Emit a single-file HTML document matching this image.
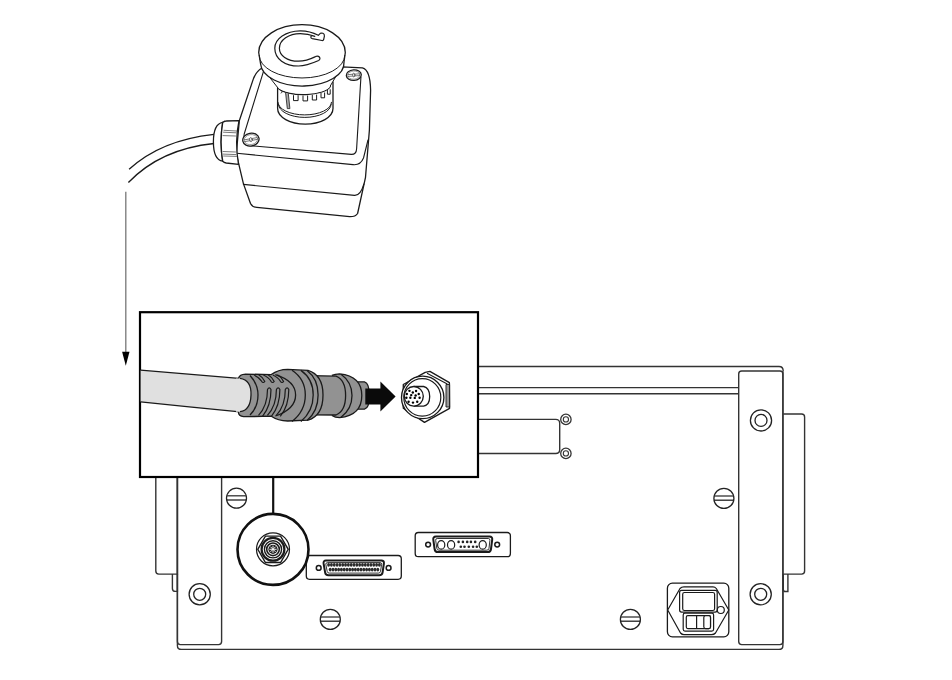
<!DOCTYPE html>
<html><head><meta charset="utf-8"><style>
html,body{margin:0;padding:0;background:#fff;width:952px;height:680px;overflow:hidden;font-family:"Liberation Sans",sans-serif}
svg{display:block}
</style></head><body>
<svg width="952" height="680" viewBox="0 0 952 680">


<!-- ============ DEVICE ============ -->
<g fill="none" stroke="#333" stroke-width="1.4">
  <!-- top line -->
  <path d="M470 366.5 H779 Q783.2 366.5 783.2 371"/>
  <line x1="470" y1="387.6" x2="738.6" y2="387.6"/>
  <line x1="470" y1="393.8" x2="738.6" y2="393.8"/>
  <!-- plate -->
  <path d="M470 419.4 H555.7 Q559.7 419.4 559.7 423.4 V449.5 Q559.7 453.5 555.7 453.5 H470"/>
  <!-- right flange -->
  <path d="M783.2 414 H801.6 Q804.6 414 804.6 417 V571 Q804.6 574.1 801.6 574.1 H783.2"/>
  <path d="M783.3 574.1 V589.4 Q783.3 591.5 785.3 591.5 H787.9 V574.1"/>
  <!-- left flange -->
  <path d="M177.4 470 V574.1 H158.8 Q155.8 574.1 155.8 571.1 V470"/>
  <path d="M177.4 574.1 V591.4 H175.4 Q172.4 591.4 172.4 588.4 V574.1"/>
  <!-- main panel outline left + bottom -->
  <path d="M177.4 470 V645.4 Q177.4 649.4 181.4 649.4 H778.9 Q782.9 649.4 782.9 645.4 V371"/>
  <!-- left bracket -->
  <path d="M177.4 470 V641.6 Q177.4 644.6 180.4 644.6 H218.6 Q221.6 644.6 221.6 641.6 V470"/>
  <!-- right bracket -->
  <rect x="738.7" y="371" width="44.2" height="273.6" rx="3"/>
</g>
<g transform="translate(565.9 419.4)"><circle r="5.2" fill="#fff" stroke="#333" stroke-width="1.3"/><circle r="2.6" fill="none" stroke="#333" stroke-width="1.1"/></g>
<g transform="translate(565.9 453.4)"><circle r="5.2" fill="#fff" stroke="#333" stroke-width="1.3"/><circle r="2.6" fill="none" stroke="#333" stroke-width="1.1"/></g>
<g transform="translate(761 420.4)"><circle r="10.6" fill="#fff" stroke="#222" stroke-width="1.3"/><circle r="6" fill="none" stroke="#222" stroke-width="1.3"/></g>
<g transform="translate(760.7 594.3)"><circle r="10.6" fill="#fff" stroke="#222" stroke-width="1.3"/><circle r="6" fill="none" stroke="#222" stroke-width="1.3"/></g>
<g transform="translate(199.7 594.3)"><circle r="10.6" fill="#fff" stroke="#222" stroke-width="1.3"/><circle r="6" fill="none" stroke="#222" stroke-width="1.3"/></g>
<g transform="translate(236.5 498.2)"><circle r="10" fill="#fff" stroke="#222" stroke-width="1.3"/><line x1="-9.6" y1="-2.4" x2="9.6" y2="-2.4" stroke="#333" stroke-width="1.3"/><line x1="-9.7" y1="1.8" x2="9.7" y2="1.8" stroke="#222" stroke-width="1.3"/></g>
<g transform="translate(330.3 619.4)"><circle r="10" fill="#fff" stroke="#222" stroke-width="1.3"/><line x1="-9.6" y1="-2.4" x2="9.6" y2="-2.4" stroke="#333" stroke-width="1.3"/><line x1="-9.7" y1="1.8" x2="9.7" y2="1.8" stroke="#222" stroke-width="1.3"/></g>
<g transform="translate(630.4 619.4)"><circle r="10" fill="#fff" stroke="#222" stroke-width="1.3"/><line x1="-9.6" y1="-2.4" x2="9.6" y2="-2.4" stroke="#333" stroke-width="1.3"/><line x1="-9.7" y1="1.8" x2="9.7" y2="1.8" stroke="#222" stroke-width="1.3"/></g>
<g transform="translate(723.9 498.4)"><circle r="10" fill="#fff" stroke="#222" stroke-width="1.3"/><line x1="-9.6" y1="-2.4" x2="9.6" y2="-2.4" stroke="#333" stroke-width="1.3"/><line x1="-9.7" y1="1.8" x2="9.7" y2="1.8" stroke="#222" stroke-width="1.3"/></g>

<!-- D-sub 37 -->
<g stroke="#1a1a1a" stroke-width="1.3" fill="#fff" stroke-linejoin="round">
  <rect x="306.3" y="555.5" width="95" height="23.8" rx="3.2"/>
  <path d="M326 560.5 H381.3 Q384.3 560.5 383.9 563.5 L382.6 572.3 Q382.2 575.2 379.2 575.2 H328.5 Q325.5 575.2 325.1 572.3 L323.6 563.5 Q323.2 560.5 326 560.5 Z" stroke-width="2"/>
  <path d="M327.5 562.6 H380 Q381.8 562.6 381.6 564.4 L380.5 571.4 Q380.2 573.1 378.5 573.1 H329.2 Q327.5 573.1 327.2 571.4 L325.8 564.4 Q325.6 562.6 327.5 562.6 Z" stroke-width="0.9"/>
  <g fill="#2a2a2a" stroke="none"><ellipse cx="328.60" cy="564.8" rx="1.45" ry="1.9"/><ellipse cx="331.42" cy="564.8" rx="1.45" ry="1.9"/><ellipse cx="334.24" cy="564.8" rx="1.45" ry="1.9"/><ellipse cx="337.07" cy="564.8" rx="1.45" ry="1.9"/><ellipse cx="339.89" cy="564.8" rx="1.45" ry="1.9"/><ellipse cx="342.71" cy="564.8" rx="1.45" ry="1.9"/><ellipse cx="345.53" cy="564.8" rx="1.45" ry="1.9"/><ellipse cx="348.36" cy="564.8" rx="1.45" ry="1.9"/><ellipse cx="351.18" cy="564.8" rx="1.45" ry="1.9"/><ellipse cx="354.00" cy="564.8" rx="1.45" ry="1.9"/><ellipse cx="356.82" cy="564.8" rx="1.45" ry="1.9"/><ellipse cx="359.64" cy="564.8" rx="1.45" ry="1.9"/><ellipse cx="362.47" cy="564.8" rx="1.45" ry="1.9"/><ellipse cx="365.29" cy="564.8" rx="1.45" ry="1.9"/><ellipse cx="368.11" cy="564.8" rx="1.45" ry="1.9"/><ellipse cx="370.93" cy="564.8" rx="1.45" ry="1.9"/><ellipse cx="373.76" cy="564.8" rx="1.45" ry="1.9"/><ellipse cx="376.58" cy="564.8" rx="1.45" ry="1.9"/><ellipse cx="379.40" cy="564.8" rx="1.45" ry="1.9"/><ellipse cx="330.20" cy="569.6" rx="1.45" ry="1.9"/><ellipse cx="333.00" cy="569.6" rx="1.45" ry="1.9"/><ellipse cx="335.80" cy="569.6" rx="1.45" ry="1.9"/><ellipse cx="338.60" cy="569.6" rx="1.45" ry="1.9"/><ellipse cx="341.40" cy="569.6" rx="1.45" ry="1.9"/><ellipse cx="344.20" cy="569.6" rx="1.45" ry="1.9"/><ellipse cx="347.00" cy="569.6" rx="1.45" ry="1.9"/><ellipse cx="349.80" cy="569.6" rx="1.45" ry="1.9"/><ellipse cx="352.60" cy="569.6" rx="1.45" ry="1.9"/><ellipse cx="355.40" cy="569.6" rx="1.45" ry="1.9"/><ellipse cx="358.20" cy="569.6" rx="1.45" ry="1.9"/><ellipse cx="361.00" cy="569.6" rx="1.45" ry="1.9"/><ellipse cx="363.80" cy="569.6" rx="1.45" ry="1.9"/><ellipse cx="366.60" cy="569.6" rx="1.45" ry="1.9"/><ellipse cx="369.40" cy="569.6" rx="1.45" ry="1.9"/><ellipse cx="372.20" cy="569.6" rx="1.45" ry="1.9"/><ellipse cx="375.00" cy="569.6" rx="1.45" ry="1.9"/><ellipse cx="377.80" cy="569.6" rx="1.45" ry="1.9"/></g>
  <circle cx="318.7" cy="567.9" r="2.4" stroke-width="1.5"/>
  <circle cx="388.6" cy="567.9" r="2.4" stroke-width="1.5"/>
  <!-- DB combo connector -->
  <rect x="415.2" y="532.5" width="95.2" height="24.2" rx="3.2"/>
  <path d="M436 536.6 H489.5 Q492.6 536.6 492.2 539.6 L491 549 Q490.6 552.1 487.6 552.1 H438 Q435 552.1 434.6 549 L433.3 539.6 Q432.9 536.6 436 536.6 Z" stroke-width="2"/>
  <path d="M437.2 538.5 H488.3 Q490.2 538.5 489.9 540.4 L489 548.3 Q488.7 550.2 486.8 550.2 H439 Q437.1 550.2 436.8 548.3 L435.7 540.4 Q435.4 538.5 437.2 538.5 Z" stroke-width="0.9"/>
  <ellipse cx="441.2" cy="544.9" rx="3.6" ry="4.2" stroke-width="1.2"/>
  <ellipse cx="451.1" cy="544.9" rx="3.6" ry="4.2" stroke-width="1.2"/>
  <ellipse cx="482.7" cy="544.9" rx="3.6" ry="4.2" stroke-width="1.2"/>
  <g fill="#222" stroke="none">
    <circle cx="458.6" cy="541.9" r="1.3"/><circle cx="462.9" cy="541.9" r="1.3"/><circle cx="467.2" cy="541.9" r="1.3"/><circle cx="470.9" cy="541.9" r="1.3"/><circle cx="475.2" cy="541.9" r="1.3"/>
    <circle cx="460.8" cy="546.8" r="1.3"/><circle cx="464.5" cy="546.8" r="1.3"/><circle cx="468.8" cy="546.8" r="1.3"/><circle cx="473.1" cy="546.8" r="1.3"/><circle cx="476.8" cy="546.8" r="1.3"/>
  </g>
  <circle cx="428.1" cy="544.6" r="2.4" stroke-width="1.5"/>
  <circle cx="497.2" cy="544.6" r="2.4" stroke-width="1.5"/>
  <!-- power inlet -->
  <rect x="667.4" y="583.2" width="61.4" height="53.6" rx="5"/>
  <path d="M667.7 610 L680 588.5 Q681.5 586.8 684 586.8 H713 Q715 586.8 716.3 588.5 L728.8 610 L715.5 633 Q714 634.7 711.5 634.7 H684 Q682 634.7 680.5 633 Z" stroke-width="1.2"/>
  <rect x="679.6" y="590.4" width="37.6" height="21.7" rx="2" stroke-width="1.2"/>
  <rect x="682.7" y="592.5" width="31.9" height="18" rx="1.8" stroke-width="1.2"/>
  <rect x="683.2" y="613.1" width="30.4" height="18" rx="1.8" stroke-width="1.2"/>
  <rect x="686.3" y="615.7" width="24.2" height="12.9" rx="1.5" stroke-width="1.2"/>
  <line x1="696.6" y1="615.7" x2="696.6" y2="628.6" stroke-width="1.2"/>
  <rect x="703.8" y="615.7" width="6.7" height="12.9" rx="1.8" stroke-width="1.2"/>
  <circle cx="720.8" cy="610" r="3.5" stroke-width="1.2"/>
</g>

<!-- callout -->
<line x1="273.2" y1="470" x2="273.2" y2="514" stroke="#111" stroke-width="2.2"/>
<circle cx="273" cy="549.4" r="35.5" fill="#fff" stroke="#111" stroke-width="2.6"/>
<g fill="none" stroke="#1a1a1a" transform="translate(273 549.3)">
  <circle r="16.5" stroke-width="1.2"/>
  <path d="M-15.2 0 L-7.6 -13.2 L7.6 -13.2 L15.2 0 L7.6 13.2 L-7.6 13.2 Z" stroke-width="1.4"/>
  <circle r="11.4" stroke-width="2.2"/>
  <circle r="8.6" stroke-width="1.4"/>
  <circle r="6.3" stroke-width="1.6"/>
  <circle r="4.6" fill="#222" stroke="none"/>
  <path d="M-3.6 0 H3.6 M0 -3.6 V3.6 M-2.6 -2.6 L2.6 2.6 M-2.6 2.6 L2.6 -2.6" stroke="#fff" stroke-width="0.9"/>
</g>

<!-- ============ INSET ============ -->
<rect x="140" y="312.2" width="338" height="164.8" fill="#fff" stroke="#000" stroke-width="2.2"/>
<g stroke="#1a1a1a" stroke-width="1.3" stroke-linejoin="round">
  <!-- cable -->
  <path d="M140.6 370.2 Q190 374.4 242 378.6 L242 411.8 Q190 407 140.6 401.8 Z" fill="#e0e0e0" stroke="none"/>
  <path d="M140.6 370.2 Q190 374.4 242 378.6 M140.6 401.8 Q190 407 240 411.8" fill="none"/>
  <!-- tip -->
  <path d="M355 381.8 L364.5 381.8 Q369.4 383 369.4 395.5 Q369.4 408 364.5 409.2 L355 409.2" fill="#929292"/>
  <!-- ring 2 -->
  <path d="M331.9 375.4 Q335 373.8 339.6 373.8 Q361.8 376 361.8 395.5 Q361.8 415.5 339.6 417.6 Q335 417.6 331.9 415.5" fill="#929292"/>
  <path d="M341 374.2 Q352 382 352 395.5 Q352 409 341 417.3" fill="none"/>
  <!-- body -->
  <path d="M310 375.6 L336 376.2 Q345.6 380 345.6 395.5 Q345.6 411 336 415 L310 414.8" fill="#929292"/>
  <!-- boot + big ring -->
  <path d="M245.5 374.1 L271.3 374.6 Q278 369.5 287.7 369.4 L308 370.4 Q323 375 323 394.9 Q323 415.5 308 420.2 L287.7 421 Q278 420.8 271.3 416.2 L243.6 416.7 Q238.5 416 238.5 412.6 L238.5 378.5 Q239.5 374.3 245.5 374.1 Z" fill="#929292"/>
  <!-- cable end -->
  <path d="M240 378.4 Q251.5 380 251 395 Q250.5 410.5 240 411.7 L236 411.7 L236 378.4 Z" fill="#e0e0e0" stroke="none"/>
  <path d="M240 378.4 Q251.5 380 251 395 Q250.5 410.5 240 411.7" fill="none"/>
  <path d="M250 375.5 Q258 384 258 395 Q258 407 250 415" fill="none"/>
  <path d="M275.3 374.6 Q295.6 381 295.6 394.9 Q295.6 409 275.3 416 M292 370.2 Q305.3 379 305.3 394.9 Q305.3 411 292 421.4 M300.9 370.4 Q313.2 379 313.2 394.9 Q313.2 411 300.9 421.4 M307 370.6 Q318.1 379 318.1 394.9 Q318.1 411 307 420.5" fill="none"/>
  <!-- rib slots on boot -->
  <g fill="none" stroke-width="1.2">
    <path d="M254.0 375 Q259.5 377.5 261.6 381.3 Q263.2 383.6 264.8 381.5 Q262.6 377 258.6 374.8 M263.4 375 Q268.9 377.5 271.0 381.3 Q272.6 383.6 274.2 381.5 Q272.0 377 268.0 374.8 M272.8 375 Q278.3 377.5 280.4 381.3 Q282.0 383.6 283.6 381.5 Q281.4 377 277.4 374.8"/>
    <path d="M258.5 415.3 Q267.5 406 267.5 389.5 Q269.2 386.3 271.0 389.5 Q271.0 406 262.5 416.3 M267.4 415.3 Q276.4 406 276.4 389.5 Q278.1 386.3 279.9 389.5 Q279.9 406 271.4 416.3 M276.3 415.3 Q285.3 406 285.3 389.5 Q287.1 386.3 288.8 389.5 Q288.8 406 280.3 416.3"/>
  </g>
</g>
<!-- black arrow -->
<path d="M365.3 388.6 H380.4 V381.4 L395.6 396.5 L380.4 411.4 V404.4 H365.3 Z" fill="#0a0a0a"/>
<!-- socket -->
<g stroke="#1a1a1a" stroke-width="1.35" fill="#fff" stroke-linejoin="round">
  <path d="M425.2 372.4 L429.9 371.4 L449.4 382.7 L449.6 408.3 L424.5 422.4 L403.3 408.3 L403.3 384.5 Z"/>
  <rect x="446" y="384.5" width="3.6" height="22.5" fill="#999" stroke-width="0.9"/>
  <path d="M427 373.3 L447.3 384.1" fill="none" stroke-width="1.1"/>
  <ellipse cx="422.7" cy="397.4" rx="21.2" ry="21.2"/>
  <ellipse cx="422.3" cy="397.4" rx="18.5" ry="18.7" fill="none" stroke-width="1.2"/>
  <path d="M413.8 386.5 H423.6 Q429.7 388 429.7 396.5 Q429.7 405 423.6 406.1 H413.8" fill="none" stroke-width="1.3"/>
  <ellipse cx="413.8" cy="396.3" rx="9.5" ry="9.8"/>
</g>
<g fill="#000"><circle cx="409.46" cy="390.87" r="1.2"/><circle cx="416.08" cy="390.96" r="1.2"/><circle cx="412.81" cy="392.46" r="1.2"/><circle cx="406.82" cy="394.04" r="1.2"/><circle cx="418.72" cy="394.04" r="1.2"/><circle cx="411.23" cy="395.10" r="1.2"/><circle cx="415.64" cy="395.54" r="1.2"/><circle cx="406.38" cy="397.75" r="1.2"/><circle cx="410.35" cy="397.75" r="1.2"/><circle cx="414.75" cy="397.92" r="1.2"/><circle cx="419.60" cy="397.75" r="1.2"/><circle cx="408.58" cy="401.71" r="1.2"/><circle cx="412.99" cy="402.60" r="1.2"/><circle cx="417.22" cy="401.71" r="1.2"/></g>

<!-- ============ CABLE ============ -->
<g fill="none" stroke="#1a1a1a" stroke-width="1.3">
  <path d="M214 134.3 C180 138 150 150 129.1 169.3"/>
  <path d="M214 143.5 C180 147 150 160 128.4 182.5"/>
</g>
<!-- ============ E-STOP BOX ============ -->
<g stroke="#1a1a1a" stroke-width="1.3" fill="none" stroke-linejoin="round" stroke-linecap="round">
  <!-- box silhouette -->
  <path d="M262 68 Q255 72 252.1 82.6 L239.3 120.7 L236.3 153.6 L243.4 183.6 L250.5 203.5 Q252.5 207.2 256.8 207.4 L349.7 216.7 Q355.5 216.8 357.6 213.5 L365.5 177.3 L369.4 130 L370.6 90.3 Q370.3 70 362.4 67.9 L342 66.8 Z" fill="#fff"/>
  <!-- top face inner border -->
  <path d="M263.5 71.3 L244.2 134 Q243 141 248 145.5 L351.3 154.4 Q356.3 154.6 356.6 148.9 L360.9 77.4" stroke-width="1.1"/>
  <!-- lid edge -->
  <path d="M236.8 153.3 L353 164.6 Q360.5 165.4 363.5 158 L368 140" stroke-width="1.1"/>
  <!-- split line -->
  <path d="M243.4 184.4 L354.5 195.4 Q360.5 195.8 363.9 184" stroke-width="1.1"/>
  <!-- gland -->
  <path d="M222.7 122.4 Q213.4 124 213.4 141.8 Q213.4 160 222.7 161.2 Q219.5 142 222.7 122.4 Z" fill="#fff"/>
  <path d="M222.7 122.4 Q225 121 226.2 121 L239 120.6 Q234.5 142 238.5 164.3 L226.2 163 Q224 162.5 222.7 161.2 Q219.5 142 222.7 122.4 Z" fill="#fff"/>
  <path d="M224 130.3 L236.5 131 M223.5 132.2 L236 132.8 M223 135.6 L235.5 136 M223 151.5 L235.5 152 M223.3 154.1 L236 154.6 M223.6 156 L236.5 156.4" stroke-width="0.8" stroke="#555"/>
  <!-- screws -->
  <g transform="translate(250.9 139.6) rotate(-10)"><ellipse rx="8.2" ry="6.4" fill="#fff"/><ellipse rx="6.8" ry="5" stroke-width="0.7" stroke="#777"/><path d="M-6.3 -0.9 H6.3 M-6.3 0.9 H6.3" stroke-width="0.7" stroke="#444"/><ellipse rx="1.3" ry="2" fill="#fff" stroke-width="0.8" stroke="#444"/></g>
  <g transform="translate(353.8 75.1) rotate(-4)"><ellipse rx="7.5" ry="5.3" fill="#fff"/><ellipse rx="6.1" ry="4.1" stroke-width="0.7" stroke="#777"/><path d="M-5.8 -0.9 H5.8 M-5.8 0.9 H5.8" stroke-width="0.7" stroke="#444"/><ellipse rx="1.1" ry="1.9" fill="#fff" stroke-width="0.8" stroke="#444"/></g>
  <!-- stem -->
  <path d="M277.6 84 L277.6 108.6 A27.7 15.6 0 0 0 333 108.6 L333 82 Z" fill="#fff"/>
  <path d="M277.9 102.3 A26.8 12.6 0 0 0 331.5 102.3" stroke-width="1"/>
  <path d="M278.5 104.3 A26.3 13.1 0 0 0 331.1 104.3" stroke-width="1"/>
  <path d="M277.8 88 A27.4 10.2 0 0 0 330.5 86.2" stroke-width="1.1"/>
  <g stroke-width="1">
    <path d="M293.5 95.6 v5 h4.6 v-5"/><path d="M303 95.9 v5 h4.6 v-5"/><path d="M312.3 95.2 v4.8 h4.3 v-5"/><path d="M321 93.3 v4.5 h3.6 v-4.9"/><path d="M327.4 90.3 v3.9 h2.8 v-4.5"/>
    <path d="M285.6 93 L287.3 108.6 L289.9 108.6 L288.3 93.5" fill="#aaa" stroke-width="0.8"/>
    <path d="M280 89.5 L282.5 92 L281 93" stroke-width="0.8"/>
  </g>
  <!-- collar (cone) -->
  <path d="M267 74 L278.1 88.1 A27.4 9 0 0 0 330.3 85.9 L338.5 72 Z" fill="#fff" stroke="none"/>
  <path d="M267 74 L278.1 88.1 M338.5 72 L330.3 85.9" stroke-width="1"/>
  <!-- cap -->
  <path d="M258.7 52.5 A43.3 27.8 0 0 1 345.3 52.5 L344 62 A41.7 23 0 0 1 260.6 64 Z" fill="#fff"/>
  <path d="M259.2 55.5 A42.8 22.5 0 0 0 344.8 55.5" stroke-width="1"/>
  <!-- C arrow -->
  <path d="M318.3 35.3 C313 32.5 307 30.7 300.2 30.8 C286 31 274.8 38.5 274.8 48.2 C274.8 59 285 66 298.5 66 C306 66 313 63 318.7 60.5 C320.5 59.5 320.3 57.3 318.5 56.4 C317.5 55.9 316.5 56 315.5 56.6 C310 59.3 304 61.2 298.5 61.2 C287 61.2 279.4 55.5 279.4 48.2 C279.4 40 289 33.6 300.2 33.6 C306 33.6 311 34.8 314.8 36.3 L312.3 35.6 Q311.2 35.4 310.8 36.8 Q310.6 38 312.3 38.6 L322 40.5 Q323.2 40.8 323.6 39.8 L324.4 36.1 Q324.6 34 322.9 33.3 Q321.5 32.8 320.3 33.3 Z" fill="#fff" stroke-width="1.2"/>
</g>
<line x1="125.8" y1="191.8" x2="125.8" y2="354" stroke="#777" stroke-width="1.3"/>
<path d="M122.1 351.8 L129.5 351.8 L125.8 365.8 Z" fill="#000"/>

</svg>
</body></html>
